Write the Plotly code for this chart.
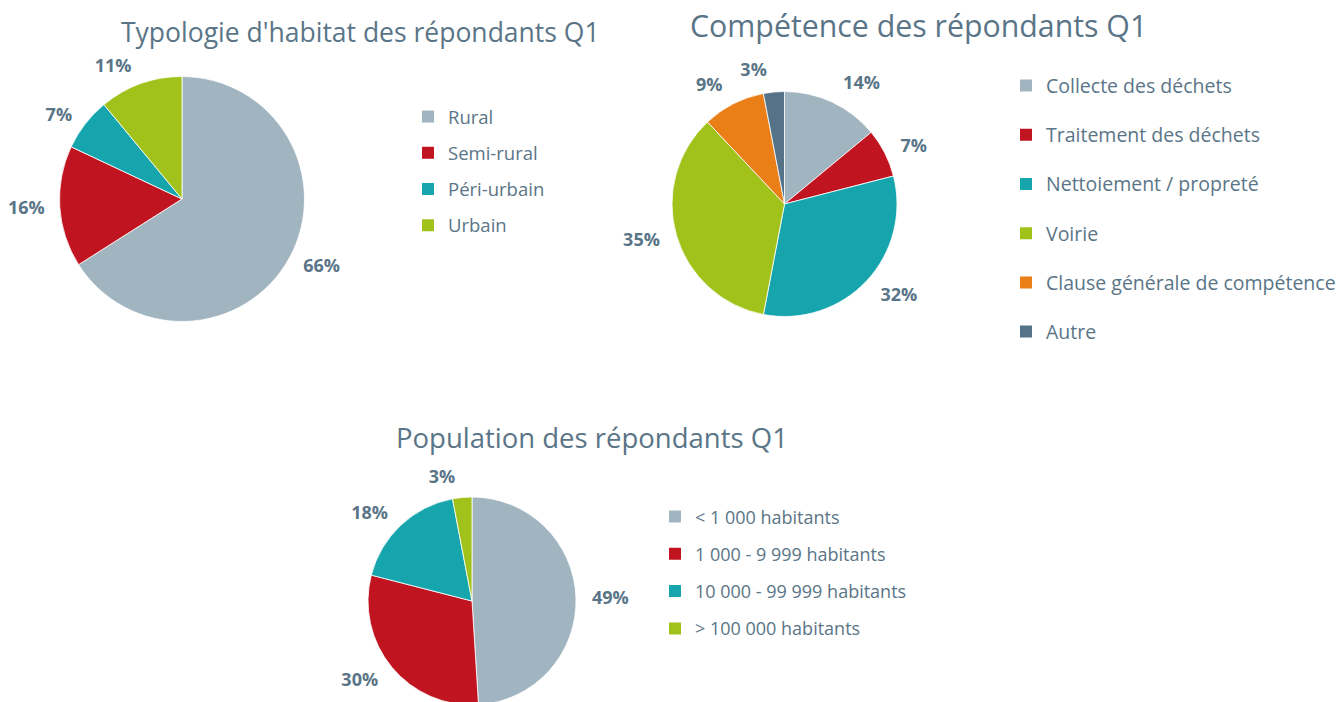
import plotly.graph_objects as go

habitat_labels = ["Rural", "Semi-rural", "Péri-urbain", "Urbain"]
habitat_values = [66, 16, 7, 11]

comp_labels = ["Collecte des déchets", "Traitement des déchets", "Nettoiement / propreté",
               "Voirie", "Clause générale de compétence", "Autre"]
comp_values = [14, 7, 32, 35, 9, 3]

pop_labels = ["< 1 000 habitants", "1 000 - 9 999 habitants",
              "10 000 - 99 999 habitants", "> 100 000 habitants"]
pop_values = [49, 30, 18, 3]

titles = ["Typologie d'habitat des répondants Q1", "Compétence des répondants Q1",
          "Population des répondants Q1"]

palette = ["#A1B5C1", "#C01421", "#17A5AD", "#A0C21A", "#EA7F17", "#557388"]
TEXT = "#5A7587"
FONT = "Open Sans"

W, H = 1341, 720


def px(sx):
    return sx / W


def py(sy):
    return 1 - sy / H


def dom(cx, cy, r):
    return dict(x=[(cx - r) / W, (cx + r) / W], y=[(H - cy - r) / H, (H - cy + r) / H])


fig = go.Figure()

# (labels, values, centre x, centre y, radius, label gap, legend id)
pies = [
    (habitat_labels, habitat_values, 182, 199, 122.5, 9, "legend"),
    (comp_labels, comp_values, 784.5, 204, 112.5, 11, "legend2"),
    (pop_labels, pop_values, 472, 601, 104, 10, "legend3"),
]

for labels, values, cx, cy, r, gap, leg in pies:
    n = len(labels)
    cols = palette[:n]
    # transparent rings carrying the outside percentage labels (one per slice,
    # so plotly does not push neighbouring labels apart)
    for i in range(n):
        fig.add_trace(go.Pie(
            labels=labels, values=values, domain=dom(cx, cy, r + gap), sort=False,
            direction="clockwise", rotation=0, showlegend=False,
            marker=dict(colors=["rgba(0,0,0,0)"] * n, line=dict(width=0)),
            texttemplate="%{percent:.0%}",
            textposition=["outside" if j == i else "none" for j in range(n)],
            outsidetextfont=dict(family=FONT, size=18, color=TEXT, weight="bold"),
            hoverinfo="skip",
        ))
    # visible pie
    fig.add_trace(go.Pie(
        labels=labels, values=values, domain=dom(cx, cy, r), sort=False,
        direction="clockwise", rotation=0, showlegend=False,
        marker=dict(colors=cols, line=dict(color="white", width=0.8)),
        textinfo="none", hoverinfo="label+percent",
    ))
    for lab, c in zip(labels, cols):
        fig.add_trace(go.Scatter(
            x=[None], y=[None], mode="markers", name=lab, legend=leg,
            legendgroup=f"{leg}-{lab}",
            marker=dict(symbol="square", size=12, color=c),
            showlegend=True, hoverinfo="skip",
        ))

annotations = []
for t, (sx, sy, s) in zip(titles, [(360, 32, 26.5), (918, 26, 30.3), (592, 438, 27.5)]):
    annotations.append(dict(text=t, x=px(sx), y=py(sy), xref="paper", yref="paper",
                            xanchor="center", yanchor="middle", showarrow=False,
                            font=dict(family=FONT, size=s, color=TEXT)))

legend_common = dict(bgcolor="rgba(0,0,0,0)", xanchor="left", yanchor="top",
                     traceorder="grouped", itemsizing="trace")

fig.update_layout(
    width=W, height=H,
    margin=dict(l=0, r=0, t=0, b=0),
    paper_bgcolor="white", plot_bgcolor="white",
    xaxis=dict(visible=False), yaxis=dict(visible=False),
    annotations=annotations,
    legend=dict(x=px(408), y=py(98), tracegroupgap=9.2,
                font=dict(family=FONT, size=18.5, color=TEXT), **legend_common),
    legend2=dict(x=px(1006), y=py(66.2), tracegroupgap=20.9,
                 font=dict(family=FONT, size=19.5, color=TEXT), **legend_common),
    legend3=dict(x=px(655), y=py(498.3), tracegroupgap=10.9,
                 font=dict(family=FONT, size=18, color=TEXT), **legend_common),
)

fig.write_html(
    "out.html",
    config={"displayModeBar": False},
    post_script="document.body.style.margin='0px';"
                "document.documentElement.style.overflow='hidden';"
                "document.body.style.overflow='hidden';",
)
